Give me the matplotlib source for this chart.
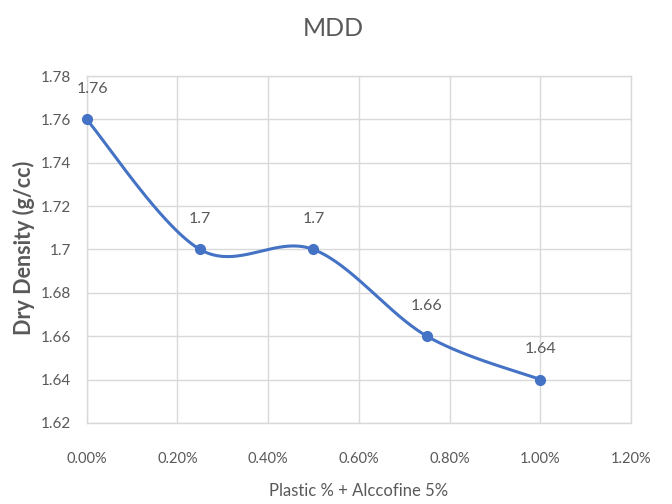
import numpy as np
import matplotlib
matplotlib.use("Agg")
import matplotlib.pyplot as plt
from matplotlib.ticker import FuncFormatter, MultipleLocator

plt.rcParams['font.family'] = ['Lato', 'DejaVu Sans']

x_vals = [0.0, 0.25, 0.5, 0.75, 1.0]
y_vals = [1.76, 1.70, 1.70, 1.66, 1.64]
labels = ["1.76", "1.7", "1.7", "1.66", "1.64"]

title = "MDD"
xlabel = "Plastic % + Alccofine 5%"
ylabel = "Dry Density (g/cc)"

gray = "#595959"
blue = "#4472C4"

fig = plt.figure(figsize=(6.72, 5.04), dpi=100)
ax = fig.add_axes([0.129, 0.161, 0.81, 0.688])
xmin, xmax, ymin, ymax = 0.0, 1.2, 1.62, 1.78
ax.set_xlim(xmin, xmax)
ax.set_ylim(ymin, ymax)

# Excel-like smoothed line computed in screen-proportional space
W, H = 544.0, 347.0
px = (np.array(x_vals) - xmin) / (xmax - xmin) * W
py = (np.array(y_vals) - ymin) / (ymax - ymin) * H
P = np.column_stack([px, py])
n = len(P)
curve = []
for i in range(n - 1):
    p0 = P[i - 1] if i > 0 else P[i]
    p1 = P[i]
    p2 = P[i + 1]
    p3 = P[i + 2] if i + 2 < n else P[i + 1]
    c1 = p1 + (p2 - p0) / 6.0
    c2 = p2 - (p3 - p1) / 6.0
    t = np.linspace(0, 1, 60)[:, None]
    seg = (1 - t) ** 3 * p1 + 3 * (1 - t) ** 2 * t * c1 + 3 * (1 - t) * t ** 2 * c2 + t ** 3 * p2
    curve.append(seg)
curve = np.vstack(curve)
cx = curve[:, 0] / W * (xmax - xmin) + xmin
cy = curve[:, 1] / H * (ymax - ymin) + ymin
ax.plot(cx, cy, color=blue, lw=2.2, solid_capstyle='round', zorder=3, clip_on=False)
ax.plot(x_vals, y_vals, 'o', color=blue, ms=7, zorder=4, clip_on=False)

for i, (xv, yv, lb) in enumerate(zip(x_vals, y_vals, labels)):
    dx = 4 if i == 0 else 0
    ax.annotate(lb, (xv, yv), xytext=(dx, 22), textcoords='offset points',
                ha='center', va='center', fontsize=11.5, color=gray)

ax.xaxis.set_major_locator(MultipleLocator(0.2))
ax.yaxis.set_major_locator(MultipleLocator(0.02))
ax.xaxis.set_major_formatter(FuncFormatter(lambda v, p: f"{v:.2f}%"))
ax.yaxis.set_major_formatter(FuncFormatter(lambda v, p: f"{round(v, 2):g}"))
ax.tick_params(axis='x', length=0, labelsize=10.5, labelcolor=gray, pad=21)
ax.tick_params(axis='y', length=0, labelsize=11, labelcolor=gray, pad=11)
ax.grid(True, color="#D9D9D9", lw=1)
ax.set_axisbelow(True)
for s in ax.spines.values():
    s.set_color("#D9D9D9")
    s.set_linewidth(1)

fig.text(333 / 672, 1 - 28 / 504, title, fontsize=18, color=gray, ha='center', va='center')
ax.set_xlabel(xlabel, fontsize=12, color=gray, labelpad=12)
fig.text(24 / 672, 1 - 248 / 504, ylabel, fontsize=15.5, color=gray, fontweight='bold',
         rotation=90, ha='center', va='center')

fig.savefig("out.png", dpi=100)
